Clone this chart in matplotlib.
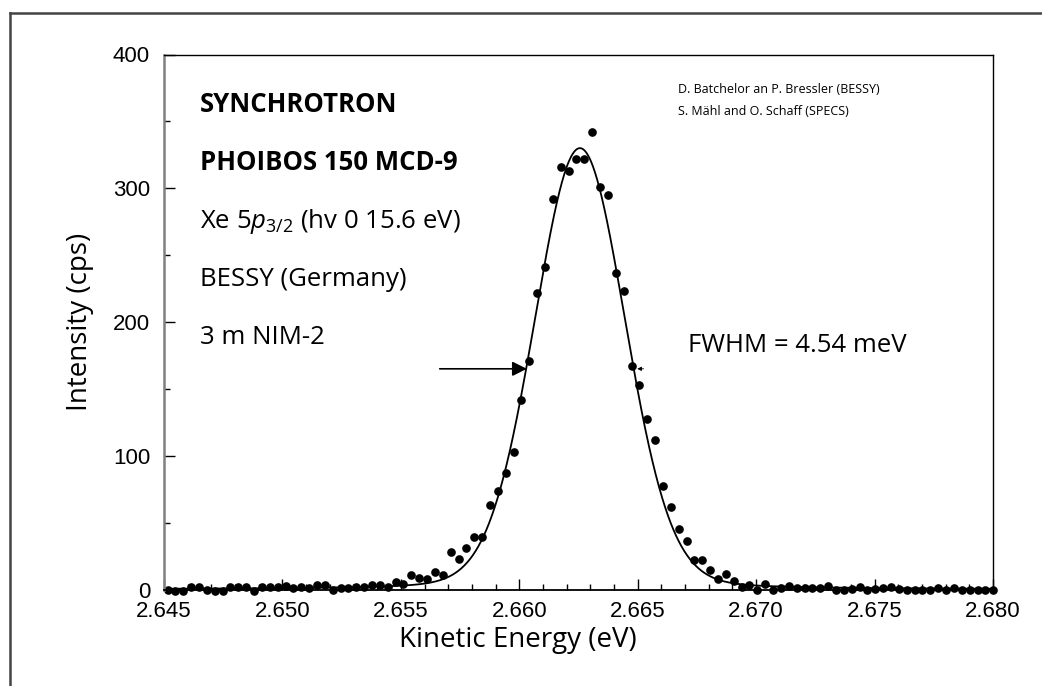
import numpy as np
import matplotlib
matplotlib.use("Agg")
import matplotlib.pyplot as plt
from matplotlib.ticker import MultipleLocator, FormatStrFormatter
from matplotlib.lines import Line2D

# measured counts, one point every ~0.332 meV starting at 2.64515 eV
e_start = 2.64515
e_step = 0.000332
counts = [0, -1, -1, 2, 1.5, 0, -1, -1, 2, 2,
          1.5, -1, 2, 1.5, 1.5, 2.5, 1, 2, 1, 3.5,
          3, 0, 1, 1, 1.5, 1.5, 3.5, 3.5, 2, 5.5,
          4, 11, 8.5, 8, 13, 11, 28, 23, 31, 39,
          39.5, 63, 74, 87, 103, 142, 171, 222, 241, 292,
          316, 313, 322, 322, 342, 301, 295, 237, 223, 167,
          153, 127.5, 112, 77.5, 62, 45, 36, 22, 22, 14.5,
          7.8, 11.3, 6.6, 1.5, 3.4, 0, 3.9, 0, 1.4, 2.6,
          1.4, 0.9, 1.4, 1.4, 2.6, -0.4, -0.4, 0.4, 1.6, -0.4,
          0.4, 0.9, 2.1, 0.1, 0, 0, 0, 0, 0.9, 0,
          1.4, 0, 0, -0.4, -0.4, -0.4]
energy = e_start + e_step * np.arange(len(counts))

# fit parameters (pseudo-Voigt)
fit_center = 2.66256
fit_height = 330
fit_fwhm = 0.00454
fit_eta = 0.1

text_lines = ["SYNCHROTRON", "PHOIBOS 150 MCD-9",
              r"Xe 5$\mathit{p}_{\mathrm{3/2}}$ (hv 0 15.6 eV)",
              "BESSY (Germany)", "3 m NIM-2"]
credit_lines = ["D. Batchelor an P. Bressler (BESSY)",
                "S. M\u00e4hl and O. Schaff (SPECS)"]

plt.rcParams['mathtext.fontset'] = 'custom'
plt.rcParams['mathtext.rm'] = 'Open Sans'
plt.rcParams['mathtext.it'] = 'Open Sans:italic'

W, H = 1042, 686
fig = plt.figure(figsize=(W / 100, H / 100), dpi=100)
ax = fig.add_axes([164 / W, 1 - 589.5 / H, (993 - 164) / W, (589.5 - 54.5) / H])

# fitted curve
ef = np.linspace(2.645, 2.680, 1500)
dx = (ef - fit_center) / fit_fwhm
gauss = np.exp(-4 * np.log(2) * dx ** 2)
lor = 1 / (1 + 4 * dx ** 2)
ax.plot(ef, fit_height * ((1 - fit_eta) * gauss + fit_eta * lor), color='black', lw=1.3)

ax.plot(energy, counts, 'o', color='black', ms=5.2, mec='black', clip_on=False)

ax.set_xlim(2.645, 2.680)
ax.set_ylim(0, 400)
ax.xaxis.set_major_locator(MultipleLocator(0.005))
ax.xaxis.set_minor_locator(MultipleLocator(0.001))
ax.xaxis.set_major_formatter(FormatStrFormatter('%.3f'))
ax.yaxis.set_major_locator(MultipleLocator(100))
ax.yaxis.set_minor_locator(MultipleLocator(50))
ax.tick_params(which='both', direction='in', top=False, right=False, width=1, color='black')
ax.tick_params(which='major', length=8)
ax.tick_params(which='minor', length=4.5)
ax.tick_params(axis='x', pad=8)
ax.tick_params(axis='y', pad=10)
for lab in ax.get_xticklabels() + ax.get_yticklabels():
    lab.set_fontfamily('Liberation Sans')
    lab.set_fontsize(16)

ax.spines['left'].set_color('#808080')
ax.spines['left'].set_linewidth(1.8)
ax.spines['bottom'].set_linewidth(1.3)
ax.spines['top'].set_linewidth(1.0)
ax.spines['right'].set_linewidth(1.0)

ax.set_xlabel("Kinetic Energy (eV)", fontfamily='Open Sans', fontsize=20)
ax.set_ylabel("Intensity (cps)", fontfamily='Open Sans', fontsize=20)
ax.xaxis.set_label_coords((518 - 164) / 829, (589.5 - 640) / 535)
ax.xaxis.label.set_va('center')
ax.yaxis.set_label_coords((80 - 164) / 829, 0.5)
ax.yaxis.label.set_va('center')

# text block
baselines = [112, 170, 228, 286, 344]
for i, s in enumerate(text_lines):
    fig.text(200 / W, 1 - baselines[i] / H, s, fontfamily='Open Sans', fontsize=18.5,
             fontweight='bold' if i < 2 else 'normal', va='baseline', ha='left')
for i, s in enumerate(credit_lines):
    fig.text(678 / W, 1 - [93, 115][i] / H, s, fontfamily='Open Sans', fontsize=9,
             va='baseline', ha='left')
fig.text(688 / W, 1 - 352 / H, "FWHM = 4.54 meV", fontfamily='Open Sans', fontsize=18.5,
         va='baseline', ha='left')

# FWHM arrows
half = fit_height / 2
ax.annotate("", xy=(2.66032, half), xytext=(2.65664, half),
            arrowprops=dict(arrowstyle='-|>', color='black', lw=1.2,
                            mutation_scale=22, shrinkA=0, shrinkB=0))
ax.annotate("", xy=(2.66498, half), xytext=(2.66525, half),
            arrowprops=dict(arrowstyle='-|>', color='black', lw=0.6,
                            mutation_scale=6, shrinkA=0, shrinkB=0))

# outer frame (top and left only)
fig.add_artist(Line2D([10 / W, 1], [1 - 12.7 / H, 1 - 12.7 / H], color='#444444', lw=1.8))
fig.add_artist(Line2D([10 / W, 10 / W], [0, 1 - 12.7 / H], color='#444444', lw=1.8))

fig.savefig("out.png", dpi=100)
